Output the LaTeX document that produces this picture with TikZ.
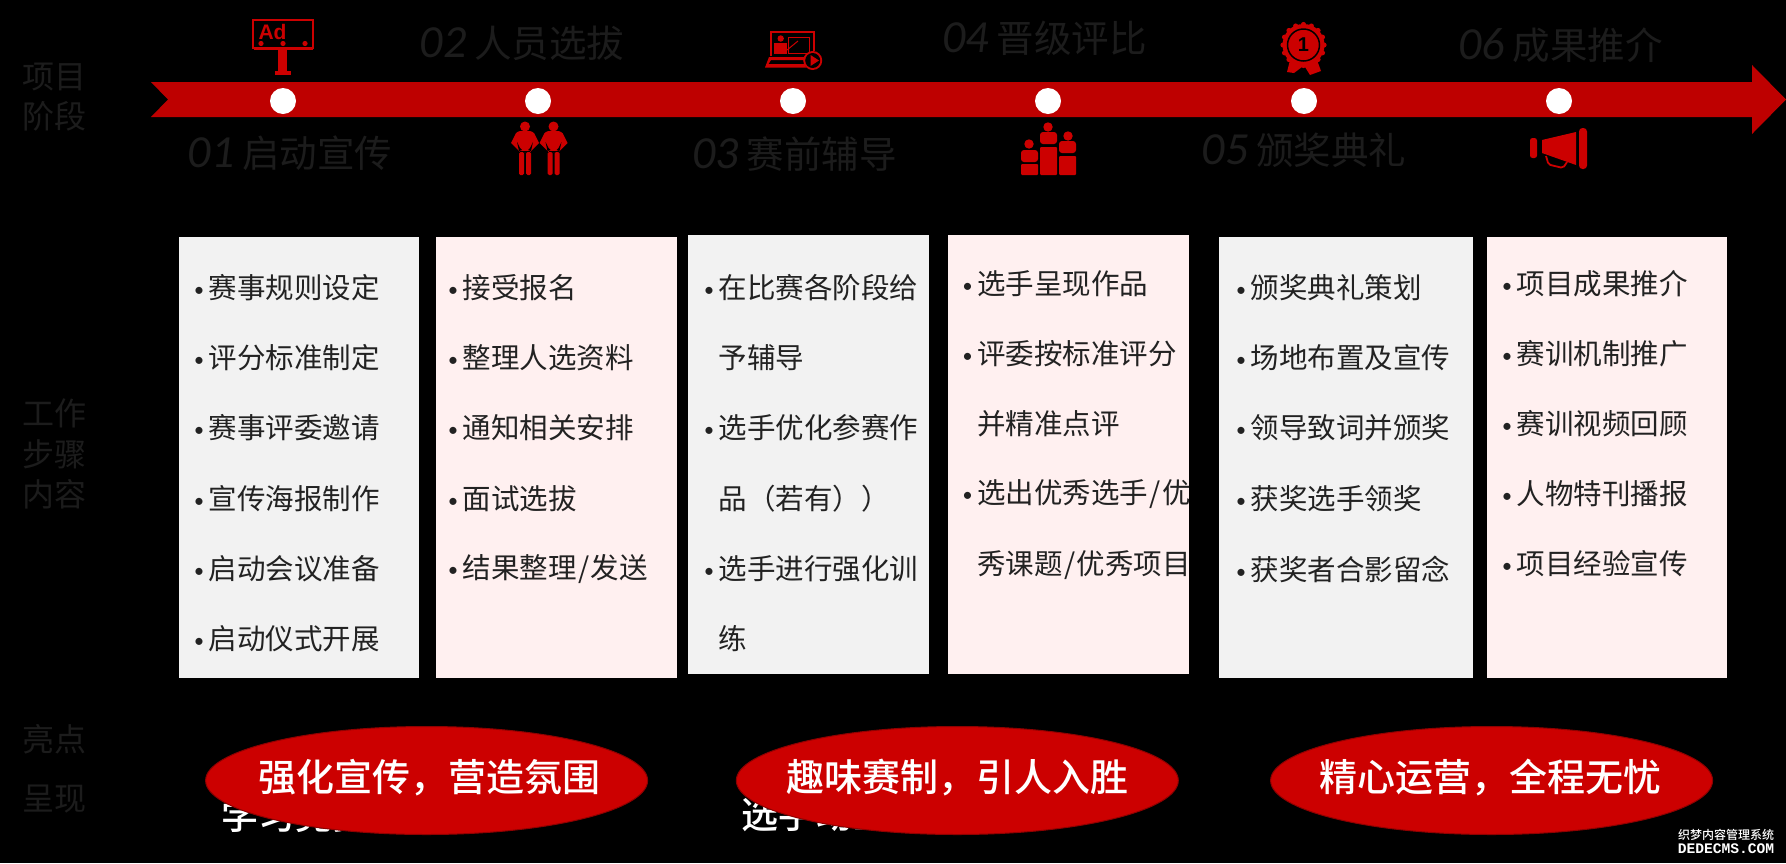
\documentclass[tikz,border=0pt]{standalone}
\usepackage{fontspec}
\setmainfont{Noto Sans CJK SC}
\newfontfamily\cjkm{Noto Sans CJK SC Medium}
\newfontfamily\numf{Carlito}[ItalicFont=* Italic]
\newfontfamily\arialf{Liberation Sans}
\newfontfamily\monof{Liberation Mono}
\usetikzlibrary{shapes.geometric}
\definecolor{barred}{HTML}{BE0000}
\definecolor{iconred}{HTML}{CC0000}
\definecolor{dim}{HTML}{1C1C1C}
\definecolor{boxgrey}{HTML}{F2F2F2}
\definecolor{boxpink}{HTML}{FFF0F0}
\definecolor{itemtext}{HTML}{222222}
\tikzset{
 sidelab/.style={text=dim,font=\fontsize{32}{40.5}\selectfont,align=center,inner sep=0pt},
 phase/.style={text=dim,font=\fontsize{37.5}{40}\selectfont,inner sep=0pt},
 dot/.style={circle,fill=white,minimum size=26pt,inner sep=0pt},
 boxg/.style={fill=boxgrey},
 boxp/.style={fill=boxpink},
 item/.style={text=itemtext,font=\fontsize{28.5}{30}\selectfont,anchor=west,inner sep=0pt},
 bubble/.style={ellipse,fill=iconred,draw=black!30!iconred,line width=1pt,minimum width=442pt,minimum height=108pt,inner sep=0pt},
 bubtext/.style={text=white,font=\cjkm\fontsize{38}{40}\selectfont,inner sep=0pt},
 covered/.style={text=white,font=\cjkm\fontsize{37}{40}\selectfont,anchor=west,inner sep=0pt},
 ic/.style={fill=iconred,draw=none},
}
\newcommand{\phs}[2]{{\numf\itshape\fontsize{46}{40}\selectfont #1}\hspace{8pt}#2}
\newcommand{\blt}{\makebox[14.5pt][l]{\raisebox{2pt}{\numf\fontsize{20}{20}\selectfont •}}}
\newcommand{\nob}{\hspace{14.5pt}}
\newcommand{\slh}{\hspace{1.5pt}/\hspace{1.5pt}}
\begin{document}
\begin{tikzpicture}[x=1pt,y=-1pt]
\useasboundingbox (0,0) rectangle (1786,863);
\fill[black] (0,0) rectangle (1786,863);

% arrow band
\fill[barred] (151,82) -- (1752,82) -- (1752,65) -- (1786,99.5) -- (1752,134) -- (1752,117) -- (151,117) -- (168,99.5) -- cycle;
\foreach \n/\x in {a/283,b/538,c/793,d/1048,e/1304,f/1559}
  \node[dot] (dot\n) at (\x,101) {};

% side labels
\node[sidelab] (s1) at (54,97) {项目\\阶段};
\node[sidelab] (s2) at (54,454) {工作\\步骤\\内容};
\node[sidelab] (s3) at (54,739) {亮点};
\node[sidelab] (s4) at (54,799) {呈现};

% phase names
\node[phase] (p1) at (290,153) {\phs{01}{启动宣传}};
\node[phase] (p2) at (522,43) {\phs{02}{人员选拔}};
\node[phase] (p3) at (794.5,154) {\phs{03}{赛前辅导}};
\node[phase] (p4) at (1044.5,38) {\phs{04}{晋级评比}};
\node[phase] (p5) at (1304,150) {\phs{05}{颁奖典礼}};
\node[phase] (p6) at (1560.5,45) {\phs{06}{成果推介}};

% boxes
\fill[boxg] (179,237) rectangle (419,678);
\fill[boxp] (436,237) rectangle (677,678);
\fill[boxg] (688,235) rectangle (929,674);
\fill[boxp] (948,235) rectangle (1189,674);
\fill[boxg] (1219,237) rectangle (1473,678);
\fill[boxp] (1487,237) rectangle (1727,678);

\foreach \t/\y [count=\i] in {赛事规则设定/288,评分标准制定/358,赛事评委邀请/428,宣传海报制作/499,启动会议准备/569,启动仪式开展/639}
  \node[item] (a\i) at (194,\y) {\blt\t};
\foreach \t/\y [count=\i] in {接受报名/288,整理人选资料/358,通知相关安排/428,面试选拔/499,结果整理\slh 发送/569}
  \node[item] (b\i) at (448,\y) {\blt\t};
\foreach \t/\y [count=\i] in {\blt 在比赛各阶段给/288,\nob 予辅导/358,\blt 选手优化参赛作/428,\nob 品（若有））/499,\blt 选手进行强化训/569,\nob 练/639}
  \node[item] (c\i) at (704,\y) {\t};
\begin{scope}
\clip (948,235) rectangle (1189,674);
\foreach \t/\y [count=\i] in {\blt 选手呈现作品/284,\blt 评委按标准评分/354,\nob 并精准点评/424,\blt 选出优秀选手\slh 优/494,\nob 秀课题\slh 优秀项目/565}
  \node[item] (d\i) at (962.5,\y) {\t};
\end{scope}
\foreach \t/\y [count=\i] in {颁奖典礼策划/288,场地布置及宣传/358,领导致词并颁奖/428,获奖选手领奖/499,获奖者合影留念/569}
  \node[item] (e\i) at (1236,\y) {\blt\t};
\foreach \t/\y [count=\i] in {项目成果推介/284,赛训机制推广/354,赛训视频回顾/424,人物特刊播报/494,项目经验宣传/564}
  \node[item] (f\i) at (1502,\y) {\blt\t};

% covered white text
\node[covered] (h1) at (221,815) {学习竞赛};
\node[covered] (h2) at (741,815) {选手动画};

% ellipses
\node[bubble] (e1) at (426.6,780.5) {};
\node[bubble] (e2) at (957.3,780.5) {};
\node[bubble] (e3) at (1491.6,780.5) {};
\node[bubtext] (t1) at (429,778) {强化宣传，营造氛围};
\node[bubtext] (t2) at (957,778) {趣味赛制，引人入胜};
\node[bubtext] (t3) at (1490,778) {精心运营，全程无忧};

% Ad billboard
\draw[iconred,line width=2pt] (253,20) rectangle (313,48);
\fill[ic] (254,47) rectangle (313,50);
\fill[ic] (278,50) rectangle (287,71);
\fill[ic] (275,71) rectangle (291,75);
\foreach \x in {261,283,305} \fill[ic] (\x,43.5) circle (2.6pt);
\node[text=iconred,font=\arialf\bfseries\fontsize{21}{21}\selectfont,inner sep=0pt] (adt) at (272.5,32) {Ad};

% two persons
\foreach \x in {525,553.5}{
 \begin{scope}[shift={(\x,0)}]
 \fill[ic] (0,126.5) circle (5pt);
 \fill[ic] (-5,131) -- (5,131) .. controls (9,132) and (10,134) .. (11,137) -- (14,143) -- (5,152) -- (-5,152) -- (-14,143) -- (-11,137) .. controls (-10,134) and (-9,132) .. (-5,131) -- cycle;
 \fill[black] (-8,142) -- (-5,148) -- (-3,150) -- (-6,151) -- cycle;
 \fill[black] (8,142) -- (5,148) -- (3,150) -- (6,151) -- cycle;
 \fill[black] (-5,150.5) rectangle (5,152);
 \fill[ic,rounded corners=1.5pt] (-6,152) rectangle (-1,175);
 \fill[ic,rounded corners=1.5pt] (1,152) rectangle (6,175);
 \end{scope}
}

% laptop teacher
\draw[iconred,line width=2pt] (771,56) -- (771,32) -- (814,32) -- (814,51);
\draw[iconred,line width=1pt] (788.5,37.5) rectangle (809,53);
\fill[ic] (780.7,38.5) circle (3.2pt);
\fill[ic] (773.5,42.5) rectangle (787,54);
\draw[iconred,line width=1pt] (787,50) -- (798,41);
\fill[ic] (769,57) -- (805,57) -- (805,60) -- (771,60) -- (768.5,64) -- (805,64) -- (806,67.5) -- (765,67.5) -- cycle;
\fill[ic] (812.7,60.5) circle (9.5pt);
\fill[black] (812.7,60.5) circle (7.5pt);
\fill[ic] (810.5,55) -- (819,60.5) -- (810.5,66) -- cycle;

% three persons podium
\fill[ic] (1048,127) circle (4.7pt);
\fill[ic,rounded corners=3pt] (1040,132) rectangle (1057,144);
\fill[ic,rounded corners=1pt] (1040,147) rectangle (1057,175);
\fill[ic] (1029,144) circle (4.7pt);
\fill[ic,rounded corners=3pt] (1021,150) rectangle (1038,162);
\fill[ic,rounded corners=1pt] (1021,164) rectangle (1038,175);
\fill[ic] (1068,136) circle (4.7pt);
\fill[ic,rounded corners=3pt] (1059,141) rectangle (1076,153);
\fill[ic,rounded corners=1pt] (1059,156) rectangle (1076,175);

% medal
\fill[ic] (1290,60) -- (1287,72) -- (1294,73) -- (1302,67) -- (1303,55) -- cycle;
\fill[ic] (1317,60) -- (1321,71) -- (1310,75) -- (1305,67) -- (1303,55) -- cycle;
\foreach \a in {0,22.5,...,337.5} \fill[ic] ({1303.5+20.5*cos(\a)},{45+20.5*sin(\a)}) circle (2.6pt);
\fill[ic] (1303.5,45) circle (21pt);
\draw[black,line width=1.5pt] (1303.5,45) circle (16pt);
\node[text=black,font=\arialf\bfseries\fontsize{20}{20}\selectfont,inner sep=0pt] (one) at (1303.5,45) {1};

% megaphone
\fill[ic,rounded corners=2.5pt] (1530,138) rectangle (1537,158);
\fill[ic] (1542,140) -- (1576,132) -- (1576,165) -- (1542,153) -- cycle;
\fill[ic,rounded corners=3.5pt] (1579,128) rectangle (1587,169);
\draw[iconred,line width=1.8pt,rounded corners=2pt] (1546,156) -- (1548.5,164.5) -- (1563,168) -- (1567,162);

% watermark
\node[text=white,font=\cjkm\fontsize{12}{12}\selectfont,inner sep=0pt] (w1) at (1726,835) {织梦内容管理系统};
\node[text=white,font=\monof\bfseries\fontsize{14.6}{14}\selectfont,inner sep=0pt] (w2) at (1726,849) {DEDECMS.COM};
\end{tikzpicture}
\end{document}
